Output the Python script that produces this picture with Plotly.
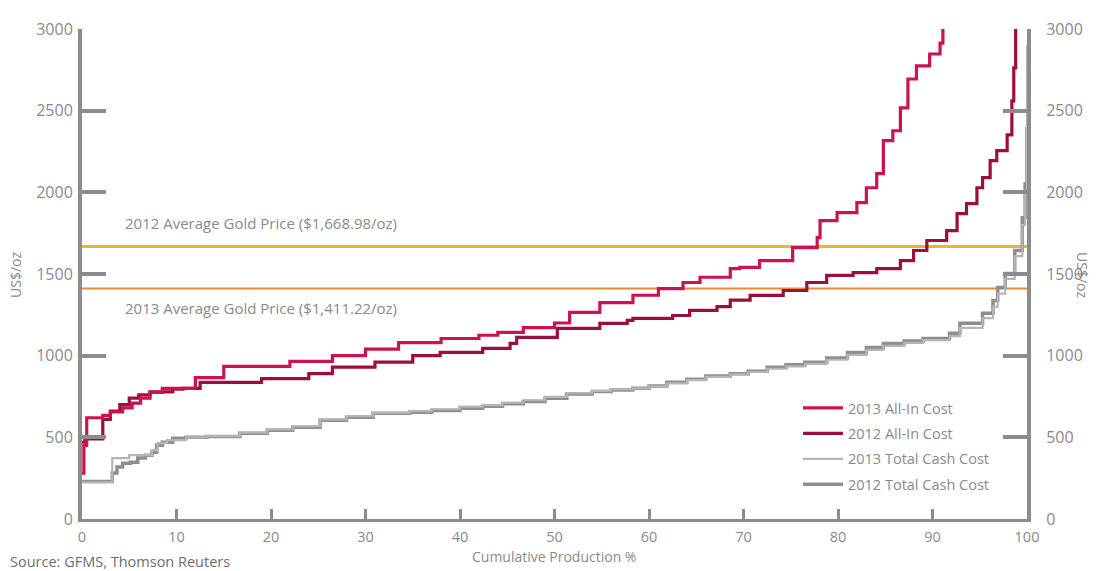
import plotly.graph_objects as go

# ---- data ----
aic13_x = [0, 0.2, 0.5, 2.2, 3.0, 4.3, 5.3, 6.2, 7.2, 8.5, 12, 15, 22, 26.5, 30, 33.5, 38, 42, 44, 46.7, 50,
           51.6, 54.8, 58.3, 61, 63.6, 65.4, 68.6, 69.6, 71.7, 75.2, 77.8, 78.1, 79.9, 82, 83, 84.1, 84.8,
           85.8, 86.6, 87.4, 88.3, 89.7, 90.8, 91.1]
aic13_y = [280, 450, 620, 635, 655, 680, 710, 740, 775, 800, 865, 935, 965, 1000, 1040, 1080, 1105, 1125, 1142,
           1172, 1200, 1265, 1325, 1370, 1410, 1448, 1480, 1533, 1540, 1582, 1662, 1723, 1827, 1876, 1937,
           2028, 2114, 2316, 2377, 2517, 2694, 2774, 2847, 2914, 3000]

aic12_x = [0, 0.3, 2.2, 3.0, 4.0, 5.0, 6.0, 7.2, 9.6, 10.7, 12.5, 19, 24, 26.5, 31, 35, 37.9, 42.4, 45.3, 46,
           50.3, 54.8, 57.7, 58.3, 62.5, 64.3, 67.2, 68.6, 70.7, 74.2, 76.7, 78.8, 81.6, 84.1, 86.6, 88, 89.4,
           91.5, 92.6, 93.6, 94.7, 95.3, 96.1, 96.8, 97.9, 98.4, 98.6, 98.8]
aic12_y = [470, 490, 610, 660, 700, 740, 760, 778, 795, 800, 837, 860, 890, 930, 960, 1000, 1020, 1045, 1075,
           1112, 1167, 1198, 1216, 1228, 1246, 1277, 1300, 1340, 1369, 1399, 1448, 1491, 1509, 1533, 1582,
           1644, 1705, 1766, 1870, 1931, 2028, 2090, 2194, 2255, 2352, 2560, 2762, 3000]

tcc12_x = [0, 3.0, 3.2, 3.7, 4.3, 5.1, 5.9, 6.7, 7.4, 7.9, 8.5, 9.6, 11, 13.2, 16.7, 19.6, 22.3, 25.2, 28, 30.8,
           34.7, 37, 40, 42.4, 44.5, 46.7, 49, 51.3, 54, 56, 58.3, 60, 61.9, 64, 66, 68.6, 70.5, 72.5, 74.5,
           76.5, 78.8, 81, 83, 84.8, 87, 89, 91.8, 92.9, 95.3, 96.4, 96.9, 97.7, 98.7, 99.5, 99.8, 100]
tcc12_y = [230, 230, 281, 318, 342, 348, 373, 391, 409, 452, 470, 495, 501, 505, 525, 544, 562, 605, 623, 648,
           654, 665, 678, 690, 705, 720, 740, 765, 780, 790, 800, 815, 837, 855, 875, 890, 905, 929, 945,
           960, 985, 1020, 1050, 1075, 1090, 1105, 1137, 1198, 1259, 1338, 1418, 1503, 1644, 1845, 2053, 2400]

tcc13_x = [0, 3.0, 3.2, 5.0, 7.4, 8.0, 9.0, 11, 13.2, 16.7, 19.6, 22.3, 25.2, 28, 30.8, 34.7, 37, 40, 42.4, 44.5,
           46.7, 49, 51.3, 54, 56, 58.3, 60, 61.9, 64, 66, 68.6, 70.5, 72.5, 74.5, 76.5, 78.8, 81, 83, 84.8,
           87, 89, 91.8, 92.9, 95.3, 96.4, 96.9, 97.7, 98.7, 99.5, 99.8, 100]
tcc13_y = [225, 225, 373, 391, 422, 464, 483, 500, 508, 528, 548, 568, 610, 630, 650, 660, 672, 688, 697, 712,
           727, 748, 770, 785, 793, 800, 812, 830, 850, 870, 885, 900, 920, 935, 950, 975, 1005, 1035, 1060,
           1078, 1095, 1120, 1170, 1230, 1300, 1380, 1470, 1610, 1800, 2000, 2900]

gold_2012 = 1668.98
gold_2013 = 1411.22
y_ticks = [0, 500, 1000, 1500, 2000, 2500, 3000]
x_ticks = [0, 10, 20, 30, 40, 50, 60, 70, 80, 90, 100]

AXIS = "#8c8c8c"
TXT = "#8a8a8a"
FONT = "Open Sans"

W, H = 1098, 571
L, R, T, B = 82, 1027, 29, 519


def px_x(px):
    return (px - L) / (R - L)


def px_y(py):
    return (B - py) / (B - T)


fig = go.Figure()
fig.add_trace(go.Scatter(x=tcc12_x, y=tcc12_y, mode="lines", line=dict(shape="hv", color="#8e8e8e", width=3.5),
                         name="2012 Total Cash Cost", legendrank=4, legendgroup="d"))
fig.add_trace(go.Scatter(x=tcc13_x, y=tcc13_y, mode="lines", line=dict(shape="hv", color="#b5b5b5", width=2.2),
                         name="2013 Total Cash Cost", legendrank=3, legendgroup="c"))
fig.add_trace(go.Scatter(x=aic12_x, y=aic12_y, mode="lines", line=dict(shape="hv", color="#9c0e3c", width=3.2),
                         name="2012 All-In Cost", legendrank=2, legendgroup="b"))
fig.add_trace(go.Scatter(x=aic13_x, y=aic13_y, mode="lines", line=dict(shape="hv", color="#cc1250", width=3.2),
                         name="2013 All-In Cost", legendrank=1, legendgroup="a"))
fig.add_trace(go.Scatter(x=[None], y=[None], yaxis="y2", showlegend=False, hoverinfo="skip"))

fig.add_shape(type="line", xref="x domain", yref="y", x0=0, x1=1, y0=gold_2012, y1=gold_2012,
              line=dict(color="#f2b22e", width=3), layer="below")
fig.add_shape(type="line", xref="x domain", yref="y", x0=0, x1=1, y0=gold_2013, y1=gold_2013,
              line=dict(color="#ef8a2c", width=2.2), layer="below")

fig.add_annotation(x=4.3, y=1810, xref="x", yref="y", xanchor="left", yanchor="middle", showarrow=False,
                   text="2012 Average Gold Price ($1,668.98/oz)", font=dict(family=FONT, size=15, color=TXT))
fig.add_annotation(x=4.3, y=1290, xref="x", yref="y", xanchor="left", yanchor="middle", showarrow=False,
                   text="2013 Average Gold Price ($1,411.22/oz)", font=dict(family=FONT, size=15, color=TXT))

# axis titles and source (positions given in page pixels)
fig.add_annotation(x=px_x(15), y=px_y(275), xref="paper", yref="paper", xanchor="center", yanchor="middle",
                   showarrow=False, text="US$/oz", textangle=-90, font=dict(family=FONT, size=14, color=TXT))
fig.add_annotation(x=px_x(1083), y=px_y(275), xref="paper", yref="paper", xanchor="center", yanchor="middle",
                   showarrow=False, text="US$/oz", textangle=90, font=dict(family=FONT, size=14, color=TXT))
fig.add_annotation(x=px_x(554), y=px_y(556), xref="paper", yref="paper", xanchor="center", yanchor="middle",
                   showarrow=False, text="Cumulative Production %", font=dict(family=FONT, size=14, color=TXT))
fig.add_annotation(x=px_x(8), y=px_y(561), xref="paper", yref="paper", xanchor="left", yanchor="middle",
                   showarrow=False, text="Source: GFMS, Thomson Reuters",
                   font=dict(family=FONT, size=14.5, color="#6e6e6e"))

fig.update_layout(
    width=W, height=H,
    margin=dict(l=L, r=W - R, t=T, b=H - B, autoexpand=False),
    plot_bgcolor="white", paper_bgcolor="white",
    font=dict(family=FONT, color=TXT),
    showlegend=True,
    legend=dict(x=px_x(798), y=px_y(392), xanchor="left", yanchor="top",
                bgcolor="rgba(0,0,0,0)", font=dict(family=FONT, size=14.5, color=TXT),
                itemwidth=40, tracegroupgap=3.6, traceorder="grouped"),
    xaxis=dict(range=[0, 100], tickvals=x_ticks, ticks="inside", ticklen=10, tickwidth=3, tickcolor=AXIS,
               showline=True, linecolor=AXIS, linewidth=3, showgrid=False, zeroline=False,
               tickfont=dict(family=FONT, size=14.5, color=TXT), ticklabelstandoff=3),
    yaxis=dict(range=[0, 3000], tickvals=y_ticks, ticks="inside", ticklen=24, tickwidth=4, tickcolor=AXIS,
               showline=True, linecolor=AXIS, linewidth=4, showgrid=False, zeroline=False,
               tickfont=dict(family=FONT, size=16, color=TXT), ticklabelstandoff=2),
    yaxis2=dict(range=[0, 3000], tickvals=y_ticks, overlaying="y", side="right", anchor="x",
                ticks="inside", ticklen=24, tickwidth=4, tickcolor=AXIS,
                showline=True, linecolor=AXIS, linewidth=4, showgrid=False, zeroline=False,
                tickfont=dict(family=FONT, size=16, color=TXT), ticklabelstandoff=12),
)

fig.write_html("out.html", config={"displayModeBar": False},
               post_script="document.body.style.margin='0px';")
